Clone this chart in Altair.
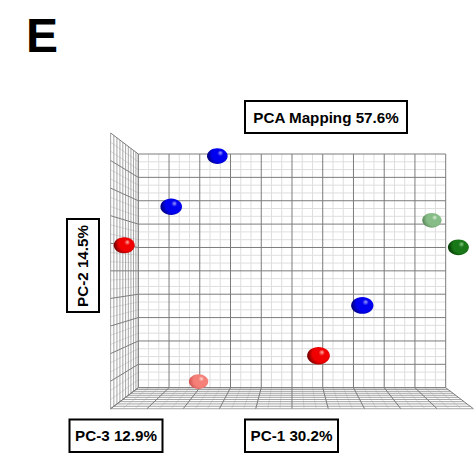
import altair as alt
import pandas as pd

# ---- sample scores on the first three components (in grid-cell units) ----
sample_group = ["blue", "blue", "red", "salmon", "red", "blue", "lightgreen", "darkgreen"]
pc1 = [2.73, 1.49, 0.00, 1.96, 5.73, 6.98, 9.55, 10.00]
pc2 = [9.59, 7.45, 6.00, 0.26, 1.92, 3.72, 7.16, 5.93]
pc3 = [4.3, 7.0, 5.5, 0.0, 10.0, 8.8, 0.0, 5.0]

panel_letter = ["E"]
title_label = ["PCA Mapping 57.6%"]
pc1_label = ["PC-1 30.2%"]
pc2_label = ["PC-2 14.5%"]
pc3_label = ["PC-3 12.9%"]

# ---- box geometry ----
N = 10          # cells along PC-1 and PC-2
SUB = 3         # minor subdivisions per cell
DEPTH = 10      # cells along PC-3
D = 6.556       # viewer distance (in box depths) for the perspective

# shading for each sample group: highlight, body, shadow
palette = {
    "blue": ("#a8a8ff", "#0000f0", "#00005a"),
    "red": ("#ffb0a8", "#f00000", "#500000"),
    "salmon": ("#ffe0dc", "#f48078", "#c84848"),
    "lightgreen": ("#e4f2e4", "#86bc86", "#507a50"),
    "darkgreen": ("#90d090", "#187818", "#002800"),
}

points = pd.DataFrame({"group": sample_group, "pc1": pc1, "pc2": pc2, "pc3": pc3})

# grid segments of the back wall, left wall and floor
segs = []
for i in range(N * SUB + 1):
    t = i / SUB
    kind = "major" if i % SUB == 0 else "minor"
    segs.append((t, 0, 0, t, N, 0, kind))          # back wall, vertical
    segs.append((0, t, 0, N, t, 0, kind))          # back wall, horizontal
    segs.append((0, t, 0, 0, t, DEPTH, kind))      # left wall, receding
    segs.append((t, 0, 0, t, 0, DEPTH, kind))      # floor, receding
for k in range(DEPTH + 1):
    segs.append((0, 0, k, 0, N, k, "depth"))       # left wall, upright
    segs.append((0, 0, k, N, 0, k, "depth"))       # floor, across
grid = pd.DataFrame(segs, columns=["u1", "v1", "z1", "u2", "v2", "z2", "kind"])

# perspective toward the centre of the back wall
def proj(u, v, z):
    s = f"({D}/({D}-datum.{z}/{DEPTH}))"
    return (f"{N/2}+(datum.{u}-{N/2})*{s}", f"{N/2}+(datum.{v}-{N/2})*{s}", s)

xs = alt.Scale(domain=[-4.499, 10.986], nice=False, zero=False)
ys = alt.Scale(domain=[-2.923, 16.590], nice=False, zero=False)

ax1, ay1, _ = proj("u1", "v1", "z1")
ax2, ay2, _ = proj("u2", "v2", "z2")

grid_base = alt.Chart(grid).transform_calculate(xa=ax1, ya=ay1, xb=ax2, yb=ay2)

def grid_layer(kind, color, width):
    return grid_base.transform_filter(alt.datum.kind == kind).mark_rule(
        color=color, strokeWidth=width
    ).encode(
        x=alt.X("xa:Q", scale=xs, axis=None),
        y=alt.Y("ya:Q", scale=ys, axis=None),
        x2="xb:Q",
        y2="yb:Q",
    )

layers = [
    grid_layer("minor", "#dedede", 1),
    grid_layer("depth", "#9a9a9a", 0.9),
    grid_layer("major", "#7c7c7c", 1),
]

# spheres drawn as shaded ellipses
ellipse = "M-1,0 A1,0.76 0 1,1 1,0 A1,0.76 0 1,1 -1,0 Z"
px, py, ps = proj("pc1", "pc2", "pc3")
for g, (hi, body, dark) in palette.items():
    grad = alt.Gradient(
        gradient="radial",
        x1=0.66, y1=0.34, r1=0.0,
        x2=0.58, y2=0.45, r2=0.62,
        stops=[
            alt.GradientStop(offset=0.0, color=hi),
            alt.GradientStop(offset=0.22, color=body),
            alt.GradientStop(offset=0.6, color=body),
            alt.GradientStop(offset=1.0, color=dark),
        ],
    )
    layers.append(
        alt.Chart(points)
        .transform_filter(alt.datum.group == g)
        .transform_calculate(sx=px, sy=py, sz=f"pow(19.3*{ps},2)")
        .mark_point(shape=ellipse, filled=True, fill=grad, opacity=1, strokeWidth=0)
        .encode(
            x=alt.X("sx:Q", scale=xs, axis=None),
            y=alt.Y("sy:Q", scale=ys, axis=None),
            size=alt.Size("sz:Q", scale=None),
        )
    )

FONT = "Liberation Sans, Arial"

def boxed(label, x0, x1, y0, y1, angle=0):
    box = alt.Chart(pd.DataFrame({"t": label})).mark_rect(
        fill="white", stroke="black", strokeWidth=2
    ).encode(x=alt.value(x0), x2=alt.value(x1), y=alt.value(y0), y2=alt.value(y1))
    txt = alt.Chart(pd.DataFrame({"t": label})).mark_text(
        font=FONT, fontSize=15.2, fontWeight="bold", color="black",
        align="center", baseline="middle", angle=angle,
    ).encode(text="t:N", x=alt.value((x0 + x1) / 2), y=alt.value((y0 + y1) / 2 + 0.5))
    return [box, txt]

layers += boxed(title_label, 245, 407, 101, 133)
layers += boxed(pc2_label, 67, 99, 219, 312, angle=270)
layers += boxed(pc3_label, 69.5, 162.5, 419.5, 452)
layers += boxed(pc1_label, 245, 338, 419.5, 452)

layers.append(
    alt.Chart(pd.DataFrame({"t": panel_letter})).mark_text(
        font=FONT, fontSize=48, fontWeight="bold", color="black",
        align="left", baseline="alphabetic",
    ).encode(text="t:N", x=alt.value(26), y=alt.value(52))
)

chart = (
    alt.layer(*layers)
    .properties(width=476, height=456, padding=0, autosize=alt.AutoSizeParams(type="none"),
                background="white")
    .configure_view(stroke=None)
)

chart.save("out.html", embed_options={"renderer": "svg", "actions": False})
